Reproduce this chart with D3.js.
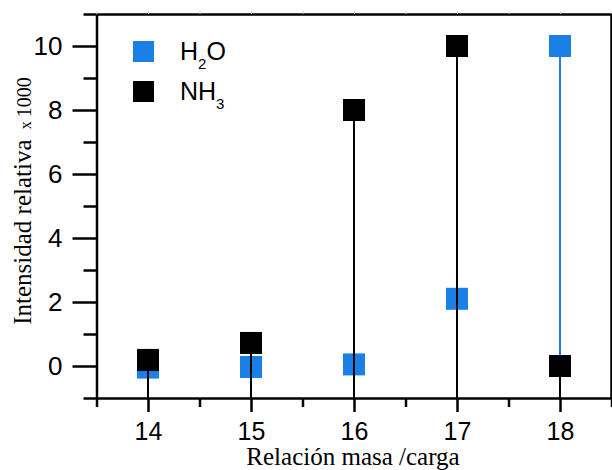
<!DOCTYPE html>
<html>
<head>
<meta charset="utf-8">
<script src="https://cdn.jsdelivr.net/npm/d3@7"></script>
<style>
  body { margin: 0; background: #fff; }
  svg { display: block; }
</style>
</head>
<body>
<div id="viz"></div>
<script>
const width = 612;
const height = 470;

// m/z values and relative intensities (x 1000)
const masses = [14, 15, 16, 17, 18];
const h2o = [-0.05, -0.03, 0.05, 2.1, 10.0];
const nh3 = [0.19, 0.72, 8.0, 10.0, 0.0];

const xMajor = [14, 15, 16, 17, 18];
const xMinor = [13.5, 14.5, 15.5, 16.5, 17.5, 18.5];
const yMajor = [0, 2, 4, 6, 8, 10];
const yMinor = [-1, 1, 3, 5, 7, 9, 11];

const blue = '#1b80e6';

const svg = d3.select('#viz')
  .append('svg')
    .attr('width', width)
    .attr('height', height);

const x = d3.scaleLinear().domain([13.5, 18.5]).range([96.5, 611.5]);
const y = d3.scaleLinear().domain([-1, 11]).range([398, 14]);

const sans = '"Liberation Sans", Arial, sans-serif';
const serif = '"Liberation Serif", "Times New Roman", serif';

// top line with faint ticks
svg.append('g')
  .attr('transform', `translate(0,${y(11)})`)
  .call(d3.axisTop(x).tickValues(d3.range(13.5, 18.6, 0.5)).tickSize(3).tickSizeOuter(0).tickFormat(''))
  .call(g => g.select('.domain').attr('stroke', '#000').attr('stroke-width', 2.5))
  .call(g => g.selectAll('.tick line').attr('stroke', '#ccc').attr('stroke-width', 1));

// right line
svg.append('line')
  .attr('x1', x(18.5)).attr('x2', x(18.5))
  .attr('y1', y(11)).attr('y2', y(-1))
  .attr('stroke', '#000').attr('stroke-width', 2.5);

// stems and markers for one series
function drawSeries(values, color) {
  svg.append('g')
    .selectAll('line')
    .data(masses)
    .join('line')
      .attr('x1', d => x(d)).attr('x2', d => x(d))
      .attr('y1', (d, i) => y(values[i]))
      .attr('y2', y(-1))
      .attr('stroke', color)
      .attr('stroke-width', 2);
}
function drawMarkers(values, color) {
  const s = 22;
  svg.append('g')
    .selectAll('rect')
    .data(masses)
    .join('rect')
      .attr('x', d => x(d) - s / 2)
      .attr('y', (d, i) => y(values[i]) - s / 2)
      .attr('width', s)
      .attr('height', s)
      .attr('fill', color);
}

drawSeries(h2o, blue);
drawMarkers(h2o, blue);
drawSeries(nh3, '#000');
drawMarkers(nh3, '#000');

// left axis: minor then major
svg.append('g')
  .attr('transform', `translate(${x(13.5)},0)`)
  .call(d3.axisLeft(y).tickValues(yMinor).tickSize(13).tickSizeOuter(0).tickFormat(''))
  .call(g => g.selectAll('line, path').attr('stroke-width', 2.5));

svg.append('g')
  .attr('transform', `translate(${x(13.5)},0)`)
  .call(d3.axisLeft(y).tickValues(yMajor).tickSize(24).tickSizeOuter(0).tickPadding(10).tickFormat(d3.format('d')))
  .call(g => g.select('.domain').remove())
  .call(g => g.selectAll('line').attr('stroke-width', 2.5))
  .call(g => g.selectAll('text').attr('font-family', sans).attr('font-size', 26).attr('fill', '#000'));

// bottom axis: minor then major
svg.append('g')
  .attr('transform', `translate(0,${y(-1)})`)
  .call(d3.axisBottom(x).tickValues(xMinor).tickSize(9).tickSizeOuter(0).tickFormat(''))
  .call(g => g.selectAll('line, path').attr('stroke-width', 2.5));

svg.append('g')
  .attr('transform', `translate(0,${y(-1)})`)
  .call(d3.axisBottom(x).tickValues(xMajor).tickSize(14).tickSizeOuter(0).tickPadding(10).tickFormat(d3.format('d')))
  .call(g => g.select('.domain').remove())
  .call(g => g.selectAll('line').attr('stroke-width', 2.5))
  .call(g => g.selectAll('text').attr('font-family', sans).attr('font-size', 25).attr('fill', '#000'));

// axis titles
svg.append('text')
  .attr('x', 353).attr('y', 465)
  .attr('text-anchor', 'middle')
  .attr('font-family', serif).attr('font-size', 25)
  .text('Relación masa /carga');

const yt = svg.append('text')
  .attr('transform', 'translate(31,201) rotate(-90)')
  .attr('text-anchor', 'middle')
  .attr('font-family', serif).attr('font-size', 25);
yt.append('tspan').text('Intensidad relativa ');
yt.append('tspan').attr('font-size', 16).attr('dx', 4).text('x ');
yt.append('tspan').attr('font-size', 20).text('1000');

// legend
const legend = [
  {name: 'H', sub: '2', tail: 'O', color: blue},
  {name: 'NH', sub: '3', tail: '', color: '#000'}
];
const lg = svg.append('g')
  .selectAll('g')
  .data(legend)
  .join('g')
    .attr('transform', (d, i) => `translate(133,${41 + i * 40})`);
lg.append('rect')
  .attr('width', 21).attr('height', 21)
  .attr('fill', d => d.color);
const lt = lg.append('text')
  .attr('x', 47).attr('y', 19)
  .attr('font-family', sans).attr('font-size', 25);
lt.append('tspan').text(d => d.name);
lt.append('tspan').attr('font-size', 15).attr('dy', 9).text(d => d.sub);
lt.append('tspan').attr('dy', -9).text(d => d.tail);
</script>
</body>
</html>
